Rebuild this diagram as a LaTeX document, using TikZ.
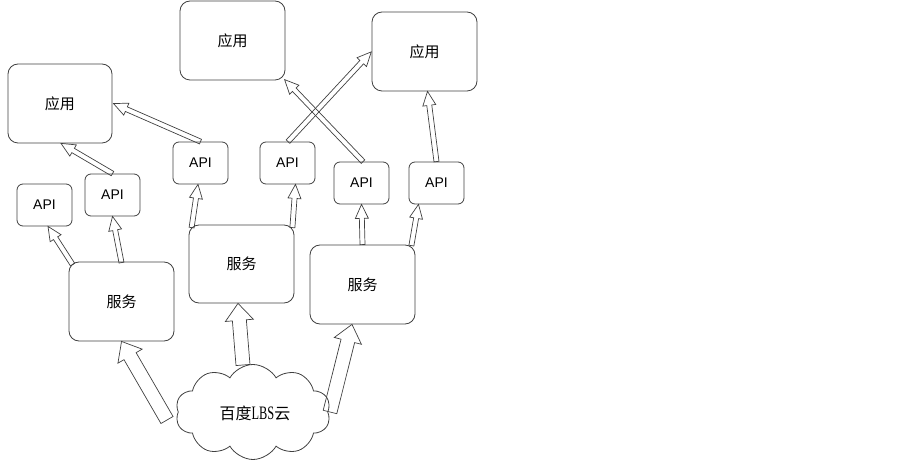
\documentclass[tikz,border=0pt]{standalone}
\usepackage{fontspec}
\setmainfont{Liberation Sans}
\newfontfamily\cjk{Noto Sans CJK SC}
\newfontfamily\lbsserif[FakeStretch=0.65]{Liberation Serif}
\usetikzlibrary{calc,shapes.symbols}
\definecolor{ln}{HTML}{404040}
\tikzset{
  box/.style={draw=ln, line width=0.8pt, rounded corners=10pt, inner sep=0pt, font=\cjk\fontsize{15}{15}\selectfont},
  bigbox/.style={box, minimum width=105pt, minimum height=79pt},
  apibox/.style={box, rounded corners=6pt, minimum width=55pt, minimum height=42pt, font=\fontsize{14}{14}\selectfont},
  arr/.style={draw=ln, line width=0.7pt, line join=miter},
}
\newcommand\barrow[5]{%
  \draw[arr] let \p1=#1, \p2=#2, \n1={atan2(\y2-\y1,\x2-\x1)}, \n2={veclen(\x2-\x1,\y2-\y1)} in
  {[shift={(\p1)}, rotate=\n1] (0,-#3) -- ({\n2-#5},-#3) -- ({\n2-#5},-#4) -- (\n2,0) -- ({\n2-#5},#4) -- ({\n2-#5},#3) -- (0,#3) -- cycle};
}
\begin{document}
\begin{tikzpicture}[x=1pt,y=-1pt]
\useasboundingbox (0,0) rectangle (903,462);
% applications
\node[bigbox, minimum width=104pt] (app1) at (60,103.5) {应用};
\node[bigbox] (app2) at (232.5,40.5) {应用};
\node[bigbox] (app3) at (424.5,51.5) {应用};
% APIs
\node[apibox] (apia) at (44.5,205) {API};
\node[apibox] (apib) at (112.5,195) {API};
\node[apibox] (apic) at (200.5,163) {API};
\node[apibox] (apid) at (287.5,163) {API};
\node[apibox] (apie) at (361.5,183) {API};
\node[apibox] (apif) at (436.5,183) {API};
% services
\node[bigbox] (s1) at (121.5,301.5) {服务};
\node[bigbox, minimum height=78pt] (s2) at (241.5,264) {服务};
\node[bigbox] (s3) at (362.5,284.5) {服务};
% cloud
\node[cloud, draw=ln, line width=0.8pt, cloud puffs=10, cloud puff arc=120, aspect=1.6,
      minimum width=155pt, minimum height=95pt, inner sep=0pt] (cloud) at (253,412) {};
\node[inner sep=0pt] (cloudtxt) at (255,413) {{\cjk\fontsize{16}{16}\selectfont 百度}{\lbsserif\fontsize{19}{19}\selectfont LBS}{\cjk\fontsize{16}{16}\selectfont 云}};
% thin arrows
\def\tw{2.5}\def\th{6.5}\def\tl{14}
\barrow{($(s1.north west)+(4,3)$)}{($(apia.south)+(3.5,0)$)}{\tw}{\th}{\tl}
\barrow{($(s1.north)+(0,1)$)}{(apib.south)}{\tw}{\th}{\tl}
\barrow{(apib.north)}{($(app1.south)+(1,0)$)}{\tw}{\th}{\tl}
\barrow{(apic.north)}{($(app1.east)+(1,0)$)}{\tw}{\th}{\tl}
\barrow{($(s2.north west)+(3,3)$)}{($(apic.south)+(-2.5,0)$)}{\tw}{\th}{\tl}
\barrow{($(s2.north east)+(-2,3)$)}{($(apid.south)+(8,0)$)}{\tw}{\th}{\tl}
\barrow{($(apid.north)+(0.5,0)$)}{(app3.west)}{\tw}{\th}{\tl}
\barrow{($(apie.north)+(1.5,0)$)}{($(app2.south east)+(-1,-1)$)}{\tw}{\th}{\tl}
\barrow{(apif.north)}{($(app3.south)+(3,0)$)}{\tw}{\th}{\tl}
\barrow{(s3.north)}{(apie.south)}{\tw}{\th}{\tl}
\barrow{($(s3.north east)+(-4,1)$)}{($(apif.south)+(-18,0)$)}{\tw}{\th}{\tl}
% big arrows
\def\bw{7}\def\bh{14}\def\bl{17}
\barrow{($(cloud.center)+(-86,8)$)}{(s1.south)}{\bw}{\bh}{\bl}
\barrow{($(cloud.center)+(-10,-47)$)}{($(s2.south)+(-3.5,0)$)}{\bw}{\bh}{\bl}
\barrow{($(cloud.center)+(77,0)$)}{($(s3.south)+(-10.5,0)$)}{\bw}{\bh}{\bl}
\end{tikzpicture}
\end{document}
